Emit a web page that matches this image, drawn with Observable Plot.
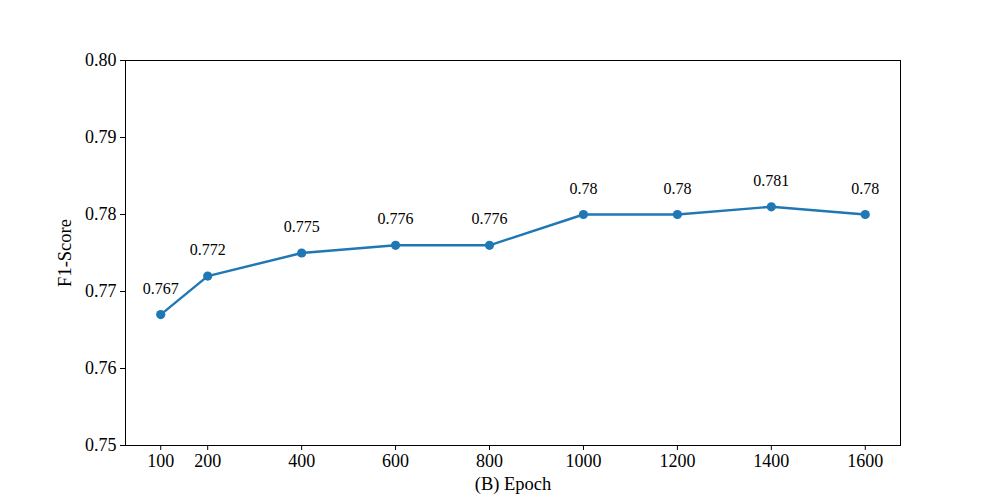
<!DOCTYPE html>
<html>
<head>
<meta charset="utf-8">
<script src="https://cdn.jsdelivr.net/npm/d3@7"></script>
<script src="https://cdn.jsdelivr.net/npm/@observablehq/plot@0.6"></script>
<style>
  html, body { margin: 0; padding: 0; background: #fff; }
  #chart svg { display: block; }
  #chart svg, #chart svg text { font-family: "Liberation Serif", "Times New Roman", serif !important; }
</style>
</head>
<body>
<div id="chart"></div>
<script>
const epochs = [100, 200, 400, 600, 800, 1000, 1200, 1400, 1600];
const f1Scores = [0.767, 0.772, 0.775, 0.776, 0.776, 0.780, 0.780, 0.781, 0.780];
const valueLabels = ["0.767", "0.772", "0.775", "0.776", "0.776", "0.78", "0.78", "0.781", "0.78"];
const xTicks = [100, 200, 400, 600, 800, 1000, 1200, 1400, 1600];
const yTicks = [0.75, 0.76, 0.77, 0.78, 0.79, 0.80];

const data = epochs.map((e, i) => ({epoch: e, f1: f1Scores[i], label: valueLabels[i]}));
const color = "#1f77b4";

const chart = Plot.plot({
  width: 1000,
  height: 500,
  marginLeft: 125,
  marginRight: 100,
  marginTop: 60,
  marginBottom: 55,
  style: {fontFamily: "Liberation Serif", fontSize: "18px", color: "#000", background: "#fff"},
  x: {domain: [25, 1675], label: null},
  y: {domain: [0.75, 0.80], label: null},
  marks: [
    Plot.frame({stroke: "#000", strokeWidth: 1}),
    Plot.axisX({ticks: xTicks, tickFormat: d => String(d), tickSize: 5, tickPadding: 4, fontSize: 18, label: null}),
    Plot.axisY({ticks: yTicks, tickFormat: d3.format(".2f"), tickSize: 5, tickPadding: 4, fontSize: 18, label: null}),
    Plot.line(data, {x: "epoch", y: "f1", stroke: color, strokeWidth: 2.4}),
    Plot.dot(data, {x: "epoch", y: "f1", fill: color, r: 4.6}),
    Plot.text(data, {x: "epoch", y: "f1", text: "label", dy: -21, lineAnchor: "bottom", fontSize: 16, fill: "#000"}),
    Plot.text(["(B) Epoch"], {frameAnchor: "bottom", textAnchor: "middle", dy: 44, lineAnchor: "bottom", fontSize: 18.5, fill: "#000"}),
    Plot.text(["F1-Score"], {frameAnchor: "left", textAnchor: "middle", dx: -60, rotate: -90, fontSize: 18.5, fill: "#000"})
  ]
});
document.getElementById("chart").appendChild(chart);
</script>
</body>
</html>
